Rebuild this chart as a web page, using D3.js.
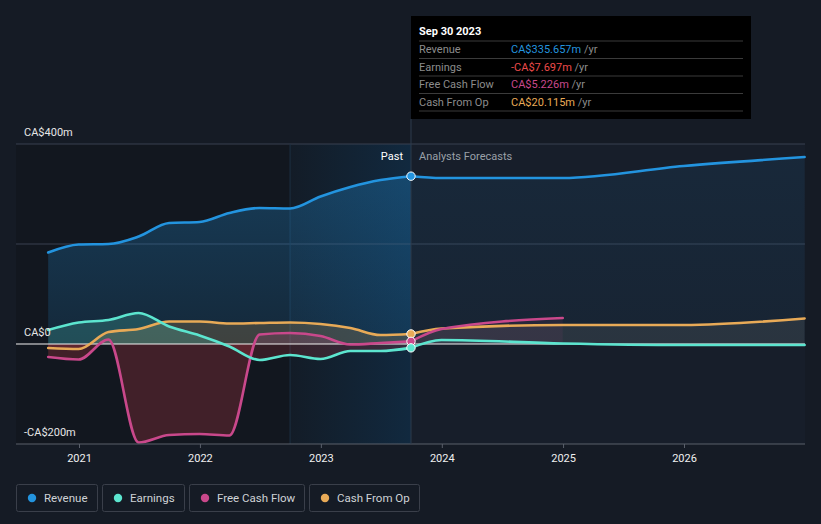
<!DOCTYPE html>
<html><head><meta charset="utf-8">
<script src="https://cdn.jsdelivr.net/npm/d3@7"></script>
<style>
html,body{margin:0;padding:0;background:#151b25;}
svg{display:block;font-family:Roboto,"Noto Sans",sans-serif;}
</style></head>
<body>
<svg id="chart" width="821" height="524"></svg>
<script>
// ---- data ----
const pastDates = ["2020-09-30","2020-12-31","2021-03-31","2021-06-30","2021-09-30","2021-12-31","2022-03-31","2022-06-30","2022-09-30","2022-12-31","2023-03-31","2023-06-30","2023-09-30"];
const revenuePast  = [183, 199, 200, 215, 242, 244, 262, 272, 271, 295, 314, 328, 335.657];
const earningsPast = [28, 43, 48, 62, 35, 17, -5, -32, -22, -30, -14, -14, -7.697];
const fcfPast      = [-26, -31, 9, -197, -182, -180, -183, 19, 22, 16, -1, 2, 5.226];
const cfoPast      = [-8, -10, 24, 30, 45, 45, 41, 42, 43, 40, 32, 18, 20.115];

const fcDates = ["2023-09-30","2023-12-31","2024-12-31","2025-12-31","2026-12-31"];
const revenueFc  = [335.657, 332, 332, 356, 374];
const earningsFc = [-7.697, 8, 1, -2, -2];
const fcfFc      = [5.226, 30, 52];
const cfoFc      = [20.115, 31, 38, 38, 51];

const yTicks = [400, 200, 0, -200];
const yTickLabels = ["CA$400m", "", "CA$0", "-CA$200m"];
const xTickYears = [2021, 2022, 2023, 2024, 2025, 2026];

const seriesNames = ["Revenue", "Earnings", "Free Cash Flow", "Cash From Op"];
const seriesColors = ["#2394df", "#5ce5cf", "#c9488b", "#e8aa57"];
const tooltipDate = "Sep 30 2023";
const tooltipValues = ["CA$335.657m", "-CA$7.697m", "CA$5.226m", "CA$20.115m"];
const tooltipValueColors = ["#2394df", "#ec4b4b", "#c9488b", "#e8aa57"];

(function(){
// ---- scales ----
const parse = d3.timeParse("%Y-%m-%d");
const x = d3.scaleTime().domain([new Date(2021,0,1), new Date(2026,0,1)]).range([79, 684]);
const y = d3.scaleLinear().domain([-200, 400]).range([444, 144]);
const pL = 16, pR = 805, pT = 144, pB = 444;
const xNow = x(parse("2023-09-30"));
const xYearAgo = x(parse("2022-09-30"));

const svg = d3.select("#chart");
const defs = svg.append("defs");

const hg = defs.append("linearGradient").attr("id","hl").attr("x1","0").attr("x2","1").attr("y1","0").attr("y2","0");
hg.append("stop").attr("offset","0").attr("stop-color","#131c27");
hg.append("stop").attr("offset","1").attr("stop-color","#11293f");

function vgrad(id, color, o1, o2) {
  const g = defs.append("linearGradient").attr("id", id).attr("gradientUnits","userSpaceOnUse")
    .attr("x1",0).attr("x2",0).attr("y1",pT).attr("y2",y(0));
  g.append("stop").attr("offset","0").attr("stop-color",color).attr("stop-opacity",o1);
  g.append("stop").attr("offset","1").attr("stop-color",color).attr("stop-opacity",o2);
}
vgrad("revPast", "#2394df", 0.32, 0.14);
vgrad("revFc", "#2394df", 0.09, 0.05);

// backgrounds
svg.append("rect").attr("x",pL).attr("y",pT).attr("width",xYearAgo-pL).attr("height",pB-pT).attr("fill","#12171f");
svg.append("rect").attr("x",xYearAgo).attr("y",pT).attr("width",xNow-xYearAgo).attr("height",pB-pT).attr("fill","url(#hl)");
svg.append("rect").attr("x",xNow).attr("y",pT).attr("width",pR-xNow).attr("height",pB-pT).attr("fill","#171e2a");

// gridlines
svg.append("g").selectAll("line").data(yTicks.filter(v => v > 0)).join("line")
  .attr("x1",pL).attr("x2",pR).attr("y1",d=>y(d)).attr("y2",d=>y(d))
  .attr("stroke","#394150").attr("stroke-width",1);

svg.append("line").attr("x1",xYearAgo).attr("x2",xYearAgo).attr("y1",pT).attr("y2",pB)
  .attr("stroke","#1d3042").attr("stroke-width",1);

// ---- series ----
function mk(dates, vals) { return dates.slice(0, vals.length).map((d,i)=>({date:parse(d), v:vals[i]})); }
const past = [mk(pastDates, revenuePast), mk(pastDates, earningsPast), mk(pastDates, fcfPast), mk(pastDates, cfoPast)];
const fc = [mk(fcDates, revenueFc), mk(fcDates, earningsFc), mk(fcDates, fcfFc), mk(fcDates, cfoFc)];

const area = d3.area().x(d=>x(d.date)).y0(y(0)).y1(d=>y(d.v)).curve(d3.curveMonotoneX);
const line = d3.line().x(d=>x(d.date)).y(d=>y(d.v)).curve(d3.curveMonotoneX);

defs.append("clipPath").attr("id","pos").append("rect").attr("x",0).attr("y",0).attr("width",821).attr("height",y(0));
defs.append("clipPath").attr("id","neg").append("rect").attr("x",0).attr("y",y(0)).attr("width",821).attr("height",524-y(0));

const gA = svg.append("g");
gA.append("path").attr("d",area(past[0])).attr("fill","url(#revPast)");
gA.append("path").attr("d",area(fc[0])).attr("fill","url(#revFc)");
gA.append("path").attr("d",area(past[3])).attr("fill",seriesColors[3]).attr("fill-opacity",0.2).attr("clip-path","url(#pos)");
gA.append("path").attr("d",area(past[3])).attr("fill","#d8404a").attr("fill-opacity",0.2).attr("clip-path","url(#neg)");
gA.append("path").attr("d",area(fc[3])).attr("fill","#8a8a80").attr("fill-opacity",0.16);
gA.append("path").attr("d",area(past[1])).attr("fill",seriesColors[1]).attr("fill-opacity",0.2).attr("clip-path","url(#pos)");
gA.append("path").attr("d",area(past[1])).attr("fill","#d8404a").attr("fill-opacity",0.18).attr("clip-path","url(#neg)");
gA.append("path").attr("d",area(fc[1])).attr("fill",seriesColors[1]).attr("fill-opacity",0.06);
gA.append("path").attr("d",area(past[2])).attr("fill",seriesColors[2]).attr("fill-opacity",0.18).attr("clip-path","url(#pos)");
gA.append("path").attr("d",area(past[2])).attr("fill","#d8404a").attr("fill-opacity",0.24).attr("clip-path","url(#neg)");
gA.append("path").attr("d",area(fc[2])).attr("fill",seriesColors[2]).attr("fill-opacity",0.08);

svg.append("line").attr("x1",pL).attr("x2",pR).attr("y1",y(0)).attr("y2",y(0))
  .attr("stroke","#f2f2f2").attr("stroke-width",1.2);

const gL = svg.append("g").attr("fill","none").attr("stroke-width",2.6).attr("stroke-linejoin","round").attr("stroke-linecap","round");
[3,2,1,0].forEach(i=>{
  gL.append("path").attr("d",line(past[i])).attr("stroke",seriesColors[i]);
  gL.append("path").attr("d",line(fc[i])).attr("stroke",seriesColors[i]);
});

// x axis
const xAxisG = svg.append("g").attr("transform",`translate(0,${pB})`);
xAxisG.append("line").attr("x1",pL).attr("x2",pR).attr("stroke","#5a606b").attr("stroke-width",1);
const xAxis = d3.axisBottom(x).tickValues(xTickYears.map(yy=>new Date(yy,0,1))).tickFormat(d3.timeFormat("%Y")).tickSize(4).tickPadding(6);
xAxisG.call(xAxis);
xAxisG.select(".domain").remove();
xAxisG.selectAll(".tick line").attr("stroke","#5a606b");
xAxisG.selectAll(".tick text").attr("fill","#f0f0f0").attr("font-size",11).attr("font-family","Roboto, sans-serif");

svg.append("line").attr("x1",xNow).attr("x2",xNow).attr("y1",119).attr("y2",pB)
  .attr("stroke","#2e3c4c").attr("stroke-width",1);

svg.append("g").selectAll("text").data(yTicks.filter((d,i)=>yTickLabels[i])).join("text")
  .attr("x",24).attr("y",d=>y(d)-8).attr("fill","#e6e6e6").attr("font-size",11)
  .text(d=>yTickLabels[yTicks.indexOf(d)]);

svg.append("text").attr("x",xNow-8).attr("y",160).attr("text-anchor","end").attr("fill","#ffffff").attr("font-size",11).text("Past");
svg.append("text").attr("x",xNow+8).attr("y",160).attr("fill","#9aa0a8").attr("font-size",11).text("Analysts Forecasts");

const nowDots = [3,2,1,0].map(i=>({i, v: past[i][past[i].length-1].v}));
svg.append("g").selectAll("circle").data(nowDots).join("circle")
  .attr("cx",xNow).attr("cy",d=>y(d.v)).attr("r",4.2)
  .attr("fill",d=>seriesColors[d.i]).attr("stroke","#ffffff").attr("stroke-width",1);

// tooltip
const tt = svg.append("g");
tt.append("rect").attr("x",411).attr("y",16).attr("width",340).attr("height",103).attr("fill","#000000");
tt.append("text").attr("x",419).attr("y",35).attr("fill","#ffffff").attr("font-size",11).attr("font-weight","bold").text(tooltipDate);
const rowY = [53, 70.5, 88, 105.5];
[41, 58.5, 76, 93.5, 111].forEach(yy=>{
  tt.append("line").attr("x1",419).attr("x2",743).attr("y1",yy).attr("y2",yy).attr("stroke","#3b3b3b").attr("stroke-width",1);
});
seriesNames.forEach((n,i)=>{
  tt.append("text").attr("x",419).attr("y",rowY[i]).attr("fill","#8c8c8c").attr("font-size",11).text(n);
  const t = tt.append("text").attr("x",511).attr("y",rowY[i]).attr("font-size",11);
  t.append("tspan").attr("fill",tooltipValueColors[i]).text(tooltipValues[i]);
  t.append("tspan").attr("fill","#8c8c8c").text(" /yr");
});

// legend
const legendX = [16, 102, 189, 309];
const legendW = [81, 82, 115, 110];
const lg = svg.append("g");
seriesNames.forEach((n,i)=>{
  const g = lg.append("g").attr("transform",`translate(${legendX[i]},484)`);
  g.append("rect").attr("x",0.5).attr("y",0.5).attr("width",legendW[i]).attr("height",27).attr("rx",2)
    .attr("fill","none").attr("stroke","#3a3f4a").attr("stroke-width",1);
  g.append("circle").attr("cx",16).attr("cy",14).attr("r",4.2).attr("fill",seriesColors[i]);
  g.append("text").attr("x",28).attr("y",18).attr("fill","#cfd2d6").attr("font-size",11.5).text(n);
});
})();
</script>
</body></html>
